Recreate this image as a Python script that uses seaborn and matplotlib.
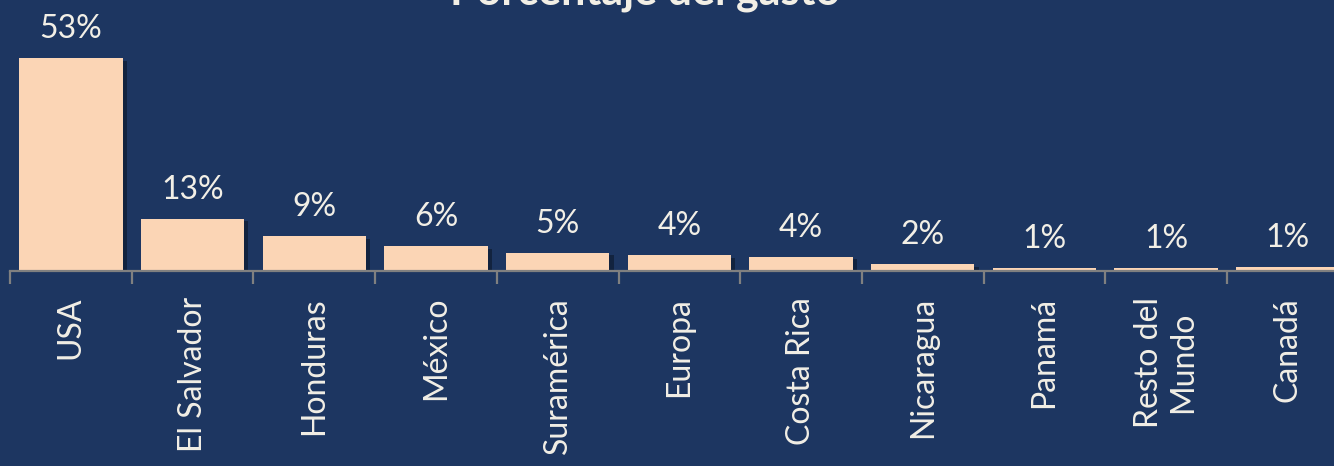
import matplotlib
matplotlib.use("Agg")
import matplotlib.pyplot as plt
import matplotlib.patheffects as pe
from matplotlib.ticker import FixedLocator
import seaborn as sns

# data
paises = ["USA", "El Salvador", "Honduras", "México", "Suramérica", "Europa",
          "Costa Rica", "Nicaragua", "Panamá", "Resto del\nMundo", "Canadá"]
gasto = [53.2, 13.1, 8.8, 6.2, 4.6, 3.9, 3.6, 1.8, 0.8, 0.8, 1.1]
etiquetas = ["53%", "13%", "9%", "6%", "5%", "4%", "4%", "2%", "1%", "1%", "1%"]

fondo = "#1D3661"     # navy background
barra = "#FBD5B5"     # peach bars
texto = "#F2EFE6"
gris = "#808080"

sns.set_style("white")
plt.rcParams['font.family'] = ['Lato', 'DejaVu Sans']

fig = plt.figure(figsize=(13.34, 4.66), dpi=100, facecolor=fondo)
# axes runs a bit past the right edge like the original crop
ax = fig.add_axes([10 / 1334, 195 / 466, 11 * 121.7 / 1334, 240 / 466])
ax.set_facecolor(fondo)

sns.barplot(x=paises, y=gasto, color=barra, saturation=1, width=0.85, linewidth=0, ax=ax)

# small drop shadow on bars
for b in ax.patches:
    b.set_path_effects([pe.SimplePatchShadow(offset=(3, -2), shadow_rgbFace="black", alpha=0.35), pe.Normal()])

# value labels above the bars
for i, (v, t) in enumerate(zip(gasto, etiquetas)):
    ax.annotate(t, (i, v), xytext=(0, 14.4), textcoords="offset points",
                ha="center", va="baseline", color=texto, fontsize=23)

ax.set_xlim(-0.5, len(paises) - 0.5)
ax.set_ylim(0, 60)
ax.set_yticks([])
ax.set_ylabel("")

# ticks sit between categories, labels at centers
ax.xaxis.set_minor_locator(FixedLocator([i - 0.5 for i in range(len(paises) + 1)]))
ax.tick_params(axis="x", which="major", bottom=True, length=0, pad=18.7, labelsize=23, labelcolor=texto, labelrotation=90)
ax.tick_params(axis="x", which="minor", bottom=True, length=9, width=1.6, color=gris, direction="out")
for lab in ax.get_xticklabels():
    lab.set_multialignment("center")

for s in ["top", "left", "right"]:
    ax.spines[s].set_visible(False)
ax.spines["bottom"].set_color(gris)
ax.spines["bottom"].set_linewidth(1.6)

# title is clipped at the top in the original
fig.text(645 / 1334, 1 - 4 / 466, "Porcentaje del gasto", ha="center", va="baseline",
         color=texto, fontsize=31, fontweight="bold")

fig.savefig("out.png", dpi=100, facecolor=fondo)
plt.close(fig)
